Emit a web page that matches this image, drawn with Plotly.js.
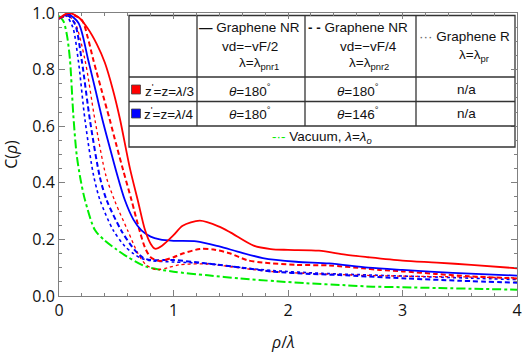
<!DOCTYPE html>
<html>
<head>
<meta charset="utf-8">
<script src="https://cdn.plot.ly/plotly-3.0.1.min.js"></script>
<style>
  html, body { margin: 0; padding: 0; background: #fff; }
  #chart { width: 523px; height: 355px; }
</style>
</head>
<body>
<div id="chart"></div>
<script>
// curves: C(rho) vs rho/lambda
const redSolidX = [0, 0.08, 0.17, 0.25, 0.33, 0.4, 0.47, 0.53, 0.62, 0.69, 0.75, 0.8, 0.84, 0.9, 1.0, 1.08, 1.23, 1.4, 1.5, 1.7, 1.85, 2.0, 2.27, 2.5, 2.7, 3.0, 3.3, 3.6, 4.0];
const redSolidY = [0.98, 1.0, 0.985, 0.946, 0.89, 0.825, 0.73, 0.63, 0.45, 0.335, 0.235, 0.185, 0.167, 0.178, 0.215, 0.248, 0.266, 0.245, 0.224, 0.178, 0.166, 0.163, 0.16, 0.146, 0.137, 0.125, 0.118, 0.11, 0.098];

const redDashX = [0, 0.1, 0.2, 0.25, 0.3, 0.37, 0.444, 0.5, 0.56, 0.633, 0.706, 0.75, 0.8, 0.88, 1.0, 1.08, 1.23, 1.35, 1.49, 1.64, 1.78, 2.07, 2.36, 2.65, 2.8, 3.0, 3.29, 3.58, 4.0];
const redDashY = [0.98, 0.995, 0.975, 0.915, 0.834, 0.73, 0.622, 0.535, 0.445, 0.339, 0.228, 0.172, 0.137, 0.124, 0.137, 0.15, 0.166, 0.164, 0.151, 0.127, 0.118, 0.11, 0.108, 0.098, 0.092, 0.087, 0.078, 0.07, 0.062];

const redDotX = [0, 0.07, 0.14, 0.227, 0.314, 0.41, 0.488, 0.604, 0.69, 0.76, 0.85, 0.95, 1.05, 1.29, 1.6, 1.87, 2.3, 2.74, 3.2, 3.6, 4.0];
const redDotY = [0.98, 0.993, 0.965, 0.834, 0.622, 0.425, 0.335, 0.228, 0.15, 0.11, 0.093, 0.1, 0.11, 0.113, 0.098, 0.086, 0.078, 0.072, 0.069, 0.067, 0.064];

const blueSolidX = [0, 0.08, 0.17, 0.255, 0.32, 0.38, 0.44, 0.5, 0.575, 0.65, 0.72, 0.8, 0.88, 1.0, 1.2, 1.4, 1.56, 1.78, 2.07, 2.36, 2.7, 3.0, 3.44, 4.0];
const blueSolidY = [0.98, 0.995, 0.965, 0.834, 0.725, 0.622, 0.53, 0.44, 0.339, 0.27, 0.232, 0.21, 0.2, 0.195, 0.193, 0.175, 0.157, 0.134, 0.121, 0.115, 0.1, 0.092, 0.082, 0.072];

const blueDashX = [0, 0.08, 0.14, 0.198, 0.27, 0.357, 0.416, 0.546, 0.66, 0.735, 0.8, 1.0, 1.29, 1.6, 1.87, 2.2, 2.45, 3.03, 3.5, 4.0];
const blueDashY = [0.98, 0.99, 0.96, 0.834, 0.622, 0.42, 0.339, 0.23, 0.163, 0.135, 0.127, 0.127, 0.115, 0.1, 0.086, 0.078, 0.074, 0.062, 0.054, 0.047];

const blueDotX = [0, 0.06, 0.12, 0.168, 0.227, 0.3, 0.357, 0.473, 0.575, 0.65, 0.72, 0.8, 1.0, 1.29, 1.6, 1.87, 2.3, 2.74, 3.2, 3.6, 4.0];
const blueDotY = [0.98, 0.99, 0.95, 0.834, 0.622, 0.43, 0.34, 0.233, 0.176, 0.15, 0.133, 0.125, 0.12, 0.115, 0.1, 0.09, 0.08, 0.074, 0.068, 0.063, 0.058];

const vacuumX = [0, 0.04, 0.07, 0.096, 0.125, 0.154, 0.189, 0.227, 0.314, 0.4, 0.5, 0.6, 0.76, 1.0, 1.3, 1.58, 1.9, 2.16, 2.5, 2.74, 3.0, 3.32, 3.7, 4.0];
const vacuumY = [0.99, 0.97, 0.92, 0.834, 0.64, 0.5, 0.41, 0.339, 0.233, 0.196, 0.165, 0.138, 0.104, 0.086, 0.073, 0.062, 0.052, 0.045, 0.038, 0.033, 0.031, 0.028, 0.025, 0.022];

const RED = '#ff0000', BLUE = '#0000ff', GREEN = '#00ee00';

function curve(x, y, color, dash, width){
  return {
    x, y,
    mode: 'lines',
    line: {color, dash, width, shape: 'spline', smoothing: 0.8},
    showlegend: false,
    hoverinfo: 'skip'
  };
}

const traces = [
  curve(vacuumX, vacuumY, GREEN, 'dashdot', 2),
  curve(blueDotX, blueDotY, BLUE, 'dot', 1.6),
  curve(redDotX, redDotY, RED, 'dot', 1.3),
  curve(blueDashX, blueDashY, BLUE, '5px,3px', 2),
  curve(redDashX, redDashY, RED, '5px,3px', 2),
  curve(blueSolidX, blueSolidY, BLUE, 'solid', 1.8),
  curve(redSolidX, redSolidY, RED, 'solid', 1.8)
];

// pixel -> paper helpers for the inset table
const L = 59, R = 517, T = 13, B = 296;
const PX = p => (p - L) / (R - L);
const PY = p => (B - p) / (B - T);

const tableFont = {family: 'Liberation Sans', size: 13.5, color: '#111'};
function cell(text, x, y){
  return {text, x: PX(x), y: PY(y), xref: 'paper', yref: 'paper',
          showarrow: false, xanchor: 'center', yanchor: 'middle', font: tableFont};
}

const axisFont = {family: 'Open Sans', size: 16, color: '#111'};

const annotations = [
  cell('<b>—</b> Graphene NR', 249, 27),
  cell('vd=−vF/2', 250, 46),
  cell('λ=λ<sub>pnr1</sub>', 259, 64),
  cell('<b>- -</b> Graphene NR', 358, 27),
  cell('vd=−vF/4', 368, 46),
  cell('λ=λ<sub>pnr2</sub>', 369, 64),
  cell('<span style="color:#666">···</span> Graphene R', 464, 36),
  cell('λ=λ<sub>pr</sub>', 474, 56),
  cell('z<sup>\'</sup>=z=<i>λ</i>/3', 169, 89.5),
  cell('z<sup>\'</sup>=z=<i>λ</i>/4', 169, 113.5),
  cell('<i>θ</i>=180<sup>°</sup>', 250, 89.5),
  cell('<i>θ</i>=180<sup>°</sup>', 358, 89.5),
  cell('n/a', 466, 89.5),
  cell('<i>θ</i>=180<sup>°</sup>', 250, 113.5),
  cell('<i>θ</i>=146<sup>°</sup>', 358, 113.5),
  cell('n/a', 466, 113.5),
  cell('<span style="color:' + GREEN + '">-·-</span> Vacuum, <i>λ</i>=<i>λ</i><sub><i>o</i></sub>', 322, 137),
  // x-axis title, placed where the figure has it
  {text: '<i>ρ</i>/<i>λ</i>', x: PX(283), y: PY(342), xref: 'paper', yref: 'paper',
   showarrow: false, xanchor: 'center', yanchor: 'middle', font: axisFont}
];

const edge = {color: '#333', width: 1.3};
function hline(y, x0, x1){
  return {type: 'line', xref: 'paper', yref: 'paper', x0: PX(x0), x1: PX(x1), y0: PY(y), y1: PY(y), line: edge};
}
function vline(x, y0, y1){
  return {type: 'line', xref: 'paper', yref: 'paper', x0: PX(x), x1: PX(x), y0: PY(y0), y1: PY(y1), line: edge};
}
function swatch(color, y){
  return {type: 'rect', xref: 'paper', yref: 'paper', x0: PX(131.5), x1: PX(140.5),
          y0: PY(y + 4.5), y1: PY(y - 4.5), fillcolor: color, line: {color: '#444', width: 0.8}};
}

const shapes = [
  {type: 'rect', xref: 'paper', yref: 'paper', x0: PX(129), x1: PX(515), y0: PY(147), y1: PY(15.5),
   fillcolor: 'white', line: edge, layer: 'below'},
  hline(77, 129, 515),
  hline(101.5, 129, 515),
  hline(126, 129, 515),
  vline(197, 15.5, 126),
  vline(305, 15.5, 126),
  vline(416, 15.5, 126),
  swatch(RED, 89.5),
  swatch(BLUE, 113.5)
];

const common = {
  showgrid: false, zeroline: false,
  showline: true, linecolor: '#808080', linewidth: 1,
  mirror: 'allticks', ticks: 'inside', ticklen: 6, tickcolor: '#808080',
  tickfont: axisFont
};

const layout = {
  width: 523, height: 355,
  margin: {l: L, r: 523 - R, t: T, b: 355 - B},
  paper_bgcolor: 'white', plot_bgcolor: 'white',
  xaxis: Object.assign({}, common, {
    range: [0, 4], dtick: 1, tick0: 0,
    minor: {dtick: 0.2, ticks: 'inside', ticklen: 3, tickcolor: '#808080'}
  }),
  yaxis: Object.assign({}, common, {
    range: [0, 1], dtick: 0.2, tick0: 0, tickformat: '.1f',
    minor: {dtick: 0.05, ticks: 'inside', ticklen: 3, tickcolor: '#808080'},
    title: {text: 'C(<i>ρ</i>)', font: axisFont, standoff: 10}
  }),
  shapes, annotations
};

Plotly.newPlot('chart', traces, layout, {displayModeBar: false});
</script>
</body>
</html>
